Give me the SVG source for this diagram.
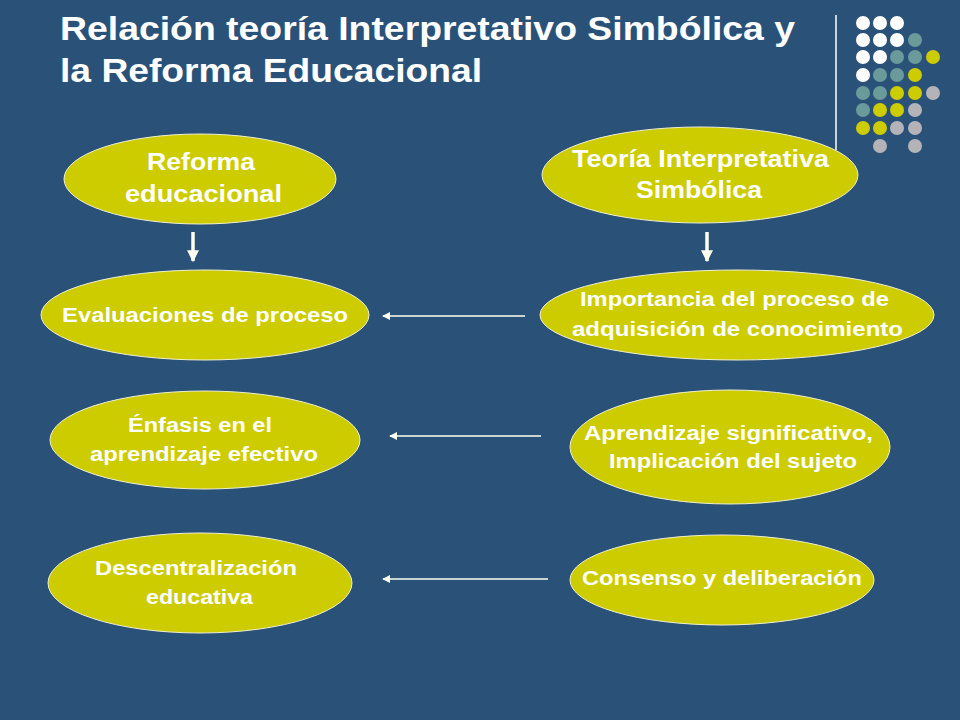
<svg xmlns="http://www.w3.org/2000/svg" width="960" height="720" viewBox="0 0 960 720">
<style>
.n{fill:#cccc00;stroke:#f0f0d0;stroke-width:1}
.t{fill:#fff;font-family:"Liberation Sans",Arial,sans-serif;font-weight:bold}
.c{stroke:#fffff0;fill:none}
.W{fill:#fff}.T{fill:#6a9a9a}.Y{fill:#cccc00}.G{fill:#b4b4b8}
</style>
<defs>
<marker id="a" viewBox="0 0 10 10" refX="9" refY="5" markerWidth="8" markerHeight="8" markerUnits="userSpaceOnUse" orient="auto"><path d="M0,0L10,5L0,10z" fill="#fffff0"/></marker>
<marker id="b" viewBox="0 0 10 10" refX="9" refY="5" markerWidth="12" markerHeight="12" markerUnits="userSpaceOnUse" orient="auto"><path d="M0,0L10,5L0,10z" fill="#fffff0"/></marker>
</defs>
<rect width="960" height="720" fill="#2a5279"/>
<text class="t" x="60" y="40" font-size="34" textLength="735" lengthAdjust="spacingAndGlyphs">Relación teoría Interpretativo Simbólica y</text>
<text class="t" x="60" y="82" font-size="34" textLength="422" lengthAdjust="spacingAndGlyphs">la Reforma Educacional</text>
<line x1="836" y1="15" x2="836" y2="150" stroke="#fff" stroke-width="1.5"/>
<g id="dots">
<circle class="W" cx="863" cy="23" r="7"/><circle class="W" cx="880" cy="23" r="7"/><circle class="W" cx="897" cy="23" r="7"/>
<circle class="W" cx="863" cy="40" r="7"/><circle class="W" cx="880" cy="40" r="7"/><circle class="W" cx="897" cy="40" r="7"/><circle class="T" cx="915" cy="40" r="7"/>
<circle class="W" cx="863" cy="57" r="7"/><circle class="W" cx="880" cy="57" r="7"/><circle class="T" cx="897" cy="57" r="7"/><circle class="T" cx="915" cy="57" r="7"/><circle class="Y" cx="933" cy="57" r="7"/>
<circle class="W" cx="863" cy="75" r="7"/><circle class="T" cx="880" cy="75" r="7"/><circle class="T" cx="897" cy="75" r="7"/><circle class="Y" cx="915" cy="75" r="7"/>
<circle class="T" cx="863" cy="93" r="7"/><circle class="T" cx="880" cy="93" r="7"/><circle class="Y" cx="897" cy="93" r="7"/><circle class="Y" cx="915" cy="93" r="7"/><circle class="G" cx="933" cy="93" r="7"/>
<circle class="T" cx="863" cy="110" r="7"/><circle class="Y" cx="880" cy="110" r="7"/><circle class="Y" cx="897" cy="110" r="7"/><circle class="G" cx="915" cy="110" r="7"/>
<circle class="Y" cx="863" cy="128" r="7"/><circle class="Y" cx="880" cy="128" r="7"/><circle class="G" cx="897" cy="128" r="7"/><circle class="G" cx="915" cy="128" r="7"/>
<circle class="G" cx="880" cy="146" r="7"/><circle class="G" cx="915" cy="146" r="7"/>
</g>
<g id="connectors">
<line class="c" x1="193" y1="232" x2="193" y2="261" stroke-width="3.5" marker-end="url(#b)"/>
<line class="c" x1="707" y1="232" x2="707" y2="261" stroke-width="3.5" marker-end="url(#b)"/>
<line class="c" x1="525" y1="316" x2="383" y2="316" stroke-width="1.5" marker-end="url(#a)"/>
<line class="c" x1="541" y1="436" x2="390" y2="436" stroke-width="1.5" marker-end="url(#a)"/>
<line class="c" x1="548" y1="579" x2="383" y2="579" stroke-width="1.5" marker-end="url(#a)"/>
</g>
<g id="n1"><ellipse class="n" cx="200" cy="179" rx="136" ry="45"/><text class="t" font-size="23" x="147" y="170" textLength="108" lengthAdjust="spacingAndGlyphs">Reforma</text><text class="t" font-size="23" x="125" y="202" textLength="157" lengthAdjust="spacingAndGlyphs">educacional</text></g>
<g id="n2"><ellipse class="n" cx="700" cy="175" rx="158" ry="48"/><text class="t" font-size="23" x="572" y="167" textLength="257" lengthAdjust="spacingAndGlyphs">Teoría Interpretativa</text><text class="t" font-size="23" x="636" y="198" textLength="126" lengthAdjust="spacingAndGlyphs">Simbólica</text></g>
<g id="n3"><ellipse class="n" cx="205" cy="315" rx="164" ry="45"/><text class="t" font-size="20" x="62" y="322" textLength="286" lengthAdjust="spacingAndGlyphs">Evaluaciones de proceso</text></g>
<g id="n4"><ellipse class="n" cx="737" cy="315" rx="197" ry="45"/><text class="t" font-size="20" x="580" y="306" textLength="309" lengthAdjust="spacingAndGlyphs">Importancia del proceso de</text><text class="t" font-size="20" x="572" y="336" textLength="331" lengthAdjust="spacingAndGlyphs">adquisición de conocimiento</text></g>
<g id="n5"><ellipse class="n" cx="205" cy="440" rx="155" ry="49"/><text class="t" font-size="20" x="128" y="432" textLength="144" lengthAdjust="spacingAndGlyphs">Énfasis en el</text><text class="t" font-size="20" x="90" y="461" textLength="228" lengthAdjust="spacingAndGlyphs">aprendizaje efectivo</text></g>
<g id="n6"><ellipse class="n" cx="730" cy="447" rx="160" ry="57"/><text class="t" font-size="20" x="584" y="440" textLength="289" lengthAdjust="spacingAndGlyphs">Aprendizaje significativo,</text><text class="t" font-size="20" x="609" y="468" textLength="248" lengthAdjust="spacingAndGlyphs">Implicación del sujeto</text></g>
<g id="n7"><ellipse class="n" cx="200" cy="583" rx="152" ry="50"/><text class="t" font-size="20" x="95" y="575" textLength="202" lengthAdjust="spacingAndGlyphs">Descentralización</text><text class="t" font-size="20" x="146" y="604" textLength="107" lengthAdjust="spacingAndGlyphs">educativa</text></g>
<g id="n8"><ellipse class="n" cx="722" cy="580" rx="152" ry="45"/><text class="t" font-size="20" x="582" y="585" textLength="280" lengthAdjust="spacingAndGlyphs">Consenso y deliberación</text></g>
</svg>
